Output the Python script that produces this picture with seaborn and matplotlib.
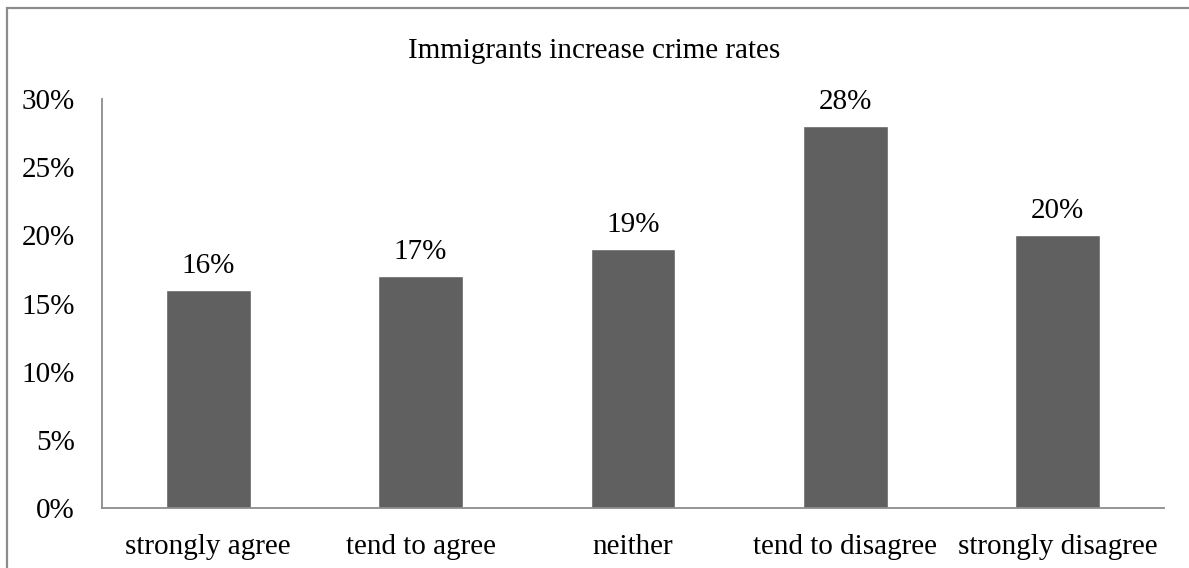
import matplotlib
matplotlib.use("Agg")
import matplotlib.pyplot as plt
import seaborn as sns
import pandas as pd
from matplotlib.patches import Rectangle

categories = ["strongly agree", "tend to agree", "neither", "tend to disagree", "strongly disagree"]
values = [16, 17, 19, 28, 20]
yticks = [0, 5, 10, 15, 20, 25, 30]
title = "Immigrants increase crime rates"

sns.set_theme(style="white")
plt.rcParams["font.family"] = ["Liberation Serif", "DejaVu Serif"]

FS = 21

df = pd.DataFrame({"answer": categories, "share": values})

fig = plt.figure(figsize=(11.89, 5.68), dpi=100)
ax = fig.add_axes([102 / 1189, 1 - 508 / 568, (1164 - 102) / 1189, (508 - 99) / 568])

sns.barplot(data=df, x="answer", y="share", color="#606060", saturation=1,
            width=0.4, ax=ax)

for i, v in enumerate(values):
    ax.text(i, v + 1.25, f"{v}%", ha="center", va="baseline", fontsize=FS, color="black")

ax.set_ylim(0, 30)
ax.set_xlim(-0.5, len(categories) - 0.5)
ax.set_yticks(yticks)
ax.set_yticklabels([f"{t}%" for t in yticks], fontsize=FS, color="black")
ax.tick_params(axis="x", labelsize=FS, colors="black", length=0, pad=19)
ax.tick_params(axis="y", length=0, pad=19.5)
ax.set_xlabel("")
ax.set_ylabel("")

for side in ["top", "right"]:
    ax.spines[side].set_visible(False)
for side in ["left", "bottom"]:
    ax.spines[side].set_color("#8c8c8c")
    ax.spines[side].set_linewidth(1.3)

fig.text(0.5, 1 - 58 / 568, title, ha="center", va="baseline", fontsize=FS, color="black")

fig.patches.append(Rectangle((7 / 1189, -10 / 568), 1190 / 1189, 570 / 568,
                             transform=fig.transFigure, fill=False,
                             edgecolor="#8c8c8c", linewidth=1.6))

fig.savefig("out.png", dpi=100)
